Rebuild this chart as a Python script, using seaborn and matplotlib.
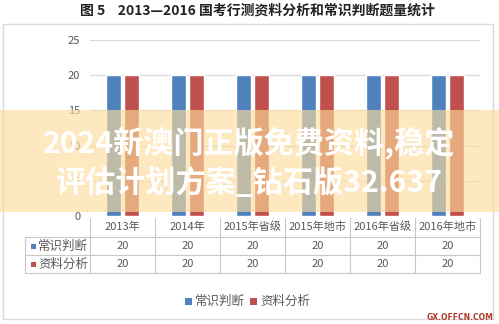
import matplotlib
matplotlib.use("Agg")
import matplotlib.pyplot as plt
import seaborn as sns
import pandas as pd
from matplotlib.lines import Line2D
from matplotlib.patches import Rectangle

# ---- data ----
categories = ["2013年", "2014年", "2015年省级", "2015年地市", "2016年省级", "2016年地市"]
series_names = ["常识判断", "资料分析"]
changshi = [20, 20, 20, 20, 20, 20]
ziliao = [20, 20, 20, 20, 20, 20]
yticks = [0, 5, 10, 15, 20, 25]
colors = ["#4f81bd", "#c0504d"]
title = "图 5    2013—2016 国考行测资料分析和常识判断题量统计"
wm_line1 = "2024新澳门正版免费资料,稳定"
wm_line2 = "评估计划方案_钻石版32.637"

sns.set_theme(style="white")
plt.rcParams['font.family'] = ['Noto Sans CJK SC', 'DejaVu Sans']

W, H = 499, 324
fig = plt.figure(figsize=(W / 100, H / 100), dpi=100)
fig.patch.set_facecolor("white")

def fx(x):
    return x / W

def fy(y):
    return 1 - y / H

# outer chart frame
fig.add_artist(Rectangle((fx(3), fy(319)), fx(493) - fx(3), fy(24) - fy(319),
                         transform=fig.transFigure, fill=False,
                         edgecolor="#d9d9d9", lw=1.0, zorder=0))

# title
fig.text(fx(257), fy(11), title, ha="center", va="center", fontsize=10,
         fontweight="bold", color="#222222")

# ---- bar chart ----
ax = fig.add_axes([fx(90), fy(216), fx(480) - fx(90), fy(40) - fy(216)])
df = pd.DataFrame({
    "cat": categories * 2,
    "series": [series_names[0]] * len(categories) + [series_names[1]] * len(categories),
    "val": changshi + ziliao,
})
sns.barplot(data=df, x="cat", y="val", hue="series", palette=colors,
            width=0.57, gap=0.19, saturation=1, legend=False, ax=ax, zorder=3)
ax.set_ylim(0, 25)
ax.set_xlim(-0.5, len(categories) - 0.5)
ax.set_yticks(yticks)
for t in yticks[1:]:
    ax.axhline(t, color="#d9d9d9", lw=0.9, zorder=1)
for s in ax.spines.values():
    s.set_visible(False)
ax.set_xticks([])
ax.set_xlabel("")
ax.set_ylabel("")
ax.set_facecolor("none")
ax.tick_params(axis="y", length=0, labelsize=8, labelcolor="#595959", pad=7)

# ---- data table ----
line_c = "#c8c8c8"
col_w = (480 - 90) / len(categories)
for i in range(len(categories) + 1):
    x = 90 + col_w * i
    fig.add_artist(Line2D([fx(x), fx(x)], [fy(218), fy(273)], transform=fig.transFigure,
                          color=line_c, lw=0.8))
fig.add_artist(Line2D([fx(25), fx(25)], [fy(237), fy(273)], transform=fig.transFigure,
                      color=line_c, lw=0.8))
for y in [237, 255, 273]:
    fig.add_artist(Line2D([fx(25), fx(480)], [fy(y), fy(y)], transform=fig.transFigure,
                          color=line_c, lw=0.8))

for i, c in enumerate(categories):
    xc = 90 + col_w * (i + 0.5)
    fig.text(fx(xc), fy(227), c, ha="center", va="center", fontsize=8, color="#595959")
    fig.text(fx(xc), fy(246), str(changshi[i]), ha="center", va="center", fontsize=8, color="#595959")
    fig.text(fx(xc), fy(264), str(ziliao[i]), ha="center", va="center", fontsize=8, color="#595959")

for r, (name, col) in enumerate(zip(series_names, colors)):
    yc = 246 + 18 * r
    fig.add_artist(Rectangle((fx(31), fy(yc + 2.5)), fx(5), fy(0) - fy(5),
                             transform=fig.transFigure, color=col, lw=0))
    fig.text(fx(38), fy(yc), name, ha="left", va="center", fontsize=9, color="#595959")

# ---- legend ----
leg_x = [185, 250]
for name, col, lx in zip(series_names, colors, leg_x):
    fig.add_artist(Rectangle((fx(lx), fy(304.5)), fx(7), fy(0) - fy(7),
                             transform=fig.transFigure, color=col, lw=0))
    fig.text(fx(lx + 10), fy(301), name, ha="left", va="center", fontsize=9, color="#595959")

# ---- overlay band and watermark ----
fig.add_artist(Rectangle((0, fy(212)), 1, fy(110) - fy(212), transform=fig.transFigure,
                         color="#fcdc9b", alpha=0.64, lw=0, zorder=5))
fig.text(0.5, fy(143), wm_line1, ha="center", va="center", fontsize=21.7,
         fontweight=900, color="white", zorder=6)
fig.text(0.5, fy(182), wm_line2, ha="center", va="center", fontsize=21.7,
         fontweight=900, color="white", zorder=6)

fig.text(fx(460), fy(317), "GX.OFFCN.COM", ha="center", va="center", fontsize=5.5,
         fontweight="bold", color="#b03a2e", family=["DejaVu Sans"], zorder=6)

fig.savefig("out.png", dpi=100)
